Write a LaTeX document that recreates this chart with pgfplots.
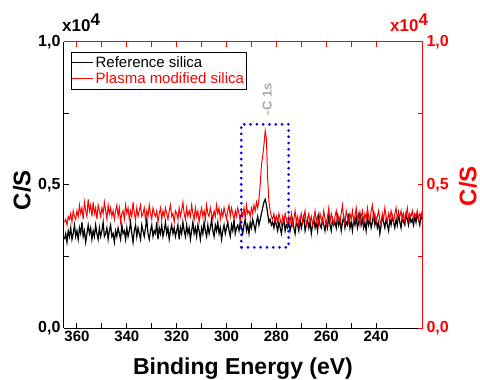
\documentclass[border=0pt]{standalone}
\usepackage{fontspec}
\setmainfont{Liberation Sans}
\usepackage{pgfplots}
\usepackage{pgfplotstable}
\pgfplotsset{compat=1.18}

\definecolor{peaklabel}{RGB}{170,170,170}

% XPS survey: binding energy (eV), counts/s (x10^4) for both samples
\pgfplotstableread{
be ref plasma
365 0.31 0.37
364.5 0.33 0.38
364 0.30 0.36
363.5 0.34 0.39
363 0.32 0.38
362.5 0.35 0.40
362 0.31 0.37
361.5 0.33 0.41
361 0.36 0.39
360.5 0.32 0.38
360 0.34 0.41
359.5 0.31 0.39
359 0.35 0.43
358.5 0.33 0.40
358 0.37 0.42
357.5 0.32 0.38
357 0.34 0.44
356.5 0.30 0.41
356 0.33 0.39
355.5 0.36 0.45
355 0.33 0.41
354.5 0.35 0.43
354 0.31 0.39
353.5 0.34 0.44
353 0.32 0.40
352.5 0.36 0.42
352 0.33 0.38
351.5 0.31 0.43
351 0.35 0.41
350.5 0.32 0.39
350 0.34 0.42
349.5 0.37 0.40
349 0.32 0.44
348.5 0.33 0.41
348 0.35 0.38
347.5 0.31 0.43
347 0.34 0.40
346.5 0.36 0.42
346 0.32 0.39
345.5 0.33 0.41
345 0.30 0.38
344.5 0.34 0.41
344 0.32 0.43
343.5 0.35 0.39
343 0.33 0.42
342.5 0.31 0.37
342 0.36 0.40
341.5 0.33 0.41
341 0.34 0.38
340.5 0.31 0.43
340 0.35 0.40
339.5 0.32 0.42
339 0.34 0.38
338.5 0.37 0.41
338 0.33 0.39
337.5 0.30 0.44
337 0.34 0.40
336.5 0.36 0.38
336 0.32 0.42
335.5 0.35 0.39
335 0.33 0.41
334.5 0.31 0.43
334 0.36 0.39
333.5 0.34 0.40
333 0.32 0.42
332.5 0.35 0.38
332 0.38 0.41
331.5 0.33 0.39
331 0.31 0.43
330.5 0.34 0.40
330 0.36 0.38
329.5 0.32 0.42
329 0.34 0.40
328.5 0.33 0.39
328 0.37 0.41
327.5 0.31 0.37
327 0.35 0.40
326.5 0.33 0.42
326 0.36 0.38
325.5 0.32 0.41
325 0.34 0.39
324.5 0.37 0.42
324 0.33 0.40
323.5 0.35 0.38
323 0.31 0.41
322.5 0.34 0.43
322 0.36 0.39
321.5 0.33 0.40
321 0.35 0.37
320.5 0.32 0.41
320 0.34 0.40
319.5 0.36 0.38
319 0.31 0.42
318.5 0.35 0.39
318 0.33 0.41
317.5 0.37 0.44
317 0.34 0.40
316.5 0.32 0.38
316 0.36 0.42
315.5 0.33 0.39
315 0.35 0.41
314.5 0.31 0.39
314 0.34 0.43
313.5 0.37 0.40
313 0.33 0.38
312.5 0.35 0.42
312 0.32 0.39
311.5 0.36 0.41
311 0.34 0.37
310.5 0.31 0.40
310 0.35 0.42
309.5 0.33 0.39
309 0.37 0.41
308.5 0.34 0.38
308 0.32 0.43
307.5 0.36 0.40
307 0.33 0.39
306.5 0.35 0.42
306 0.38 0.40
305.5 0.34 0.38
305 0.32 0.41
304.5 0.36 0.39
304 0.34 0.43
303.5 0.37 0.40
303 0.33 0.42
302.5 0.35 0.38
302 0.31 0.41
301.5 0.34 0.39
301 0.36 0.42
300.5 0.33 0.40
300 0.35 0.38
299.5 0.37 0.41
299 0.34 0.43
298.5 0.32 0.39
298 0.36 0.42
297.5 0.34 0.40
297 0.38 0.38
296.5 0.33 0.41
296 0.35 0.39
295.5 0.36 0.42
295 0.34 0.40
294.5 0.37 0.37
294 0.35 0.41
293.5 0.33 0.39
293 0.36 0.42
292.5 0.38 0.38
292 0.34 0.43
291.5 0.36 0.40
291 0.33 0.41
290.5 0.37 0.39
290 0.35 0.42
289.5 0.38 0.40
289 0.36 0.43
288.5 0.34 0.41
288 0.37 0.44
287.5 0.39 0.42
287 0.36 0.45
286.5 0.38 0.50
286 0.40 0.57
285.5 0.42 0.60
285 0.44 0.64
284.5 0.45 0.69
284 0.43 0.66
283.5 0.40 0.52
283 0.37 0.44
282.5 0.38 0.41
282 0.36 0.39
281.5 0.37 0.38
281 0.35 0.40
280.5 0.38 0.37
280 0.36 0.39
279.5 0.34 0.37
279 0.37 0.40
278.5 0.35 0.38
278 0.33 0.36
277.5 0.36 0.39
277 0.38 0.37
276.5 0.34 0.40
276 0.36 0.38
275.5 0.35 0.36
275 0.37 0.39
274.5 0.34 0.37
274 0.36 0.40
273.5 0.38 0.36
273 0.35 0.38
272.5 0.33 0.41
272 0.37 0.37
271.5 0.36 0.39
271 0.34 0.36
270.5 0.38 0.38
270 0.35 0.40
269.5 0.37 0.37
269 0.39 0.39
268.5 0.34 0.41
268 0.36 0.36
267.5 0.38 0.38
267 0.35 0.40
266.5 0.37 0.37
266 0.33 0.39
265.5 0.36 0.36
265 0.38 0.38
264.5 0.35 0.41
264 0.37 0.37
263.5 0.34 0.39
263 0.39 0.36
262.5 0.36 0.40
262 0.35 0.38
261.5 0.38 0.37
261 0.36 0.41
260.5 0.34 0.38
260 0.37 0.36
259.5 0.35 0.39
259 0.39 0.42
258.5 0.36 0.37
258 0.34 0.40
257.5 0.38 0.38
257 0.36 0.36
256.5 0.37 0.39
256 0.35 0.41
255.5 0.39 0.37
255 0.36 0.39
254.5 0.38 0.37
254 0.34 0.40
253.5 0.37 0.43
253 0.39 0.38
252.5 0.35 0.36
252 0.37 0.41
251.5 0.36 0.39
251 0.40 0.37
250.5 0.35 0.40
250 0.37 0.38
249.5 0.34 0.41
249 0.38 0.37
248.5 0.36 0.39
248 0.39 0.42
247.5 0.35 0.38
247 0.37 0.40
246.5 0.40 0.36
246 0.36 0.39
245.5 0.38 0.41
245 0.35 0.37
244.5 0.37 0.40
244 0.34 0.38
243.5 0.39 0.42
243 0.36 0.39
242.5 0.38 0.37
242 0.35 0.41
241.5 0.37 0.43
241 0.40 0.38
240.5 0.36 0.40
240 0.38 0.37
239.5 0.35 0.39
239 0.37 0.41
238.5 0.33 0.38
238 0.36 0.36
237.5 0.39 0.40
237 0.37 0.38
236.5 0.35 0.42
236 0.38 0.39
235.5 0.36 0.37
235 0.34 0.40
234.5 0.38 0.38
234 0.36 0.41
233.5 0.39 0.39
233 0.37 0.37
232.5 0.35 0.40
232 0.38 0.42
231.5 0.36 0.38
231 0.40 0.40
230.5 0.37 0.39
230 0.35 0.41
229.5 0.39 0.38
229 0.37 0.40
228.5 0.36 0.37
228 0.40 0.39
227.5 0.38 0.42
227 0.36 0.38
226.5 0.39 0.40
226 0.37 0.39
225.5 0.38 0.41
225 0.36 0.38
224.5 0.39 0.40
224 0.37 0.39
223.5 0.40 0.41
223 0.38 0.38
222.5 0.36 0.40
222 0.39 0.39
221.5 0.38 0.41
221 0.37 0.40
}\spectra

\pgfplotsset{
  frame/.style={
    scale only axis, width=359bp, height=286bp,
    xmin=221.2, xmax=365.2, ymin=0, ymax=1, x dir=reverse,
    xtick={240,260,...,360}, minor x tick num=1,
    ytick={0,0.5,1}, minor y tick num=1,
    tick align=inside,
    major tick length=5bp, minor tick length=5bp,
  },
}

\begin{document}
\begin{tikzpicture}
% left/bottom frame with the spectra
\begin{axis}[frame,
  axis x line*=bottom, axis y line*=left,
  axis line style={line width=1bp, black},
  tick style={line width=1bp, black},
  xticklabels={240,260,280,300,320,340,360},
  xticklabel style={font=\fontsize{15bp}{18bp}\selectfont\bfseries},
  yticklabels={{0,0},{0,5},{1,0}},
  yticklabel style={font=\fontsize{16bp}{19bp}\selectfont\bfseries},
  legend style={at={(0,1)}, anchor=north west, xshift=7bp, yshift=-10bp,
    draw=black, line width=0.8bp, inner xsep=0bp, inner ysep=2bp,
    row sep=0bp, font=\fontsize{15bp}{17bp}\selectfont,
    cells={anchor=west}},
  legend image code/.code={\draw[#1] (0bp,0bp) -- (21bp,0bp);},
]
\coordinate (O) at (rel axis cs:0,0);
\addplot[black, line width=1.2bp] table[x=be, y=ref] {\spectra};
\addlegendentry{Reference silica}
\addplot[red, line width=1bp] table[x=be, y=plasma] {\spectra};
\addlegendentry{\textcolor{red}{Plasma modified silica}}
% C 1s region
\draw[blue, line width=3bp, line cap=round, dash pattern=on 0bp off 6.3bp]
  (axis cs:294.1,0.282) rectangle (axis cs:275.1,0.712);
\node[rotate=90, text=peaklabel, font=\fontsize{13bp}{15bp}\selectfont\bfseries]
  at (axis cs:283.7,0.80) {-C 1s};
\end{axis}

% right/top frame in red
\begin{axis}[frame,
  axis x line*=top, axis y line*=right,
  axis line style={line width=1bp, red},
  tick style={line width=1bp, red},
  xticklabels={},
  yticklabels={{0,0},{0,5},{1,0}},
  yticklabel style={red, font=\fontsize{16bp}{19bp}\selectfont\bfseries},
]
\end{axis}

\node[anchor=base, font=\fontsize{23bp}{27bp}\selectfont\bfseries]
  at ([shift={(179bp,-46bp)}]O) {Binding Energy (eV)};
\node[rotate=90, font=\fontsize{24bp}{28bp}\selectfont\bfseries]
  at ([shift={(-42bp,138bp)}]O) {C/S};
\node[rotate=90, text=red, font=\fontsize{24bp}{28bp}\selectfont\bfseries]
  at ([shift={(404bp,142bp)}]O) {C/S};
\node[anchor=base west, inner sep=0bp, font=\fontsize{17bp}{20bp}\selectfont\bfseries]
  at ([shift={(-2bp,296bp)}]O) {x10\raisebox{6bp}{4}};
\node[anchor=base west, inner sep=0bp, text=red, font=\fontsize{17bp}{20bp}\selectfont\bfseries]
  at ([shift={(326bp,296bp)}]O) {x10\raisebox{6bp}{4}};

\pgfresetboundingbox
\path[use as bounding box] ([shift={(-64bp,-52bp)}]O) rectangle ++(480bp,380bp);
\end{tikzpicture}
\end{document}
